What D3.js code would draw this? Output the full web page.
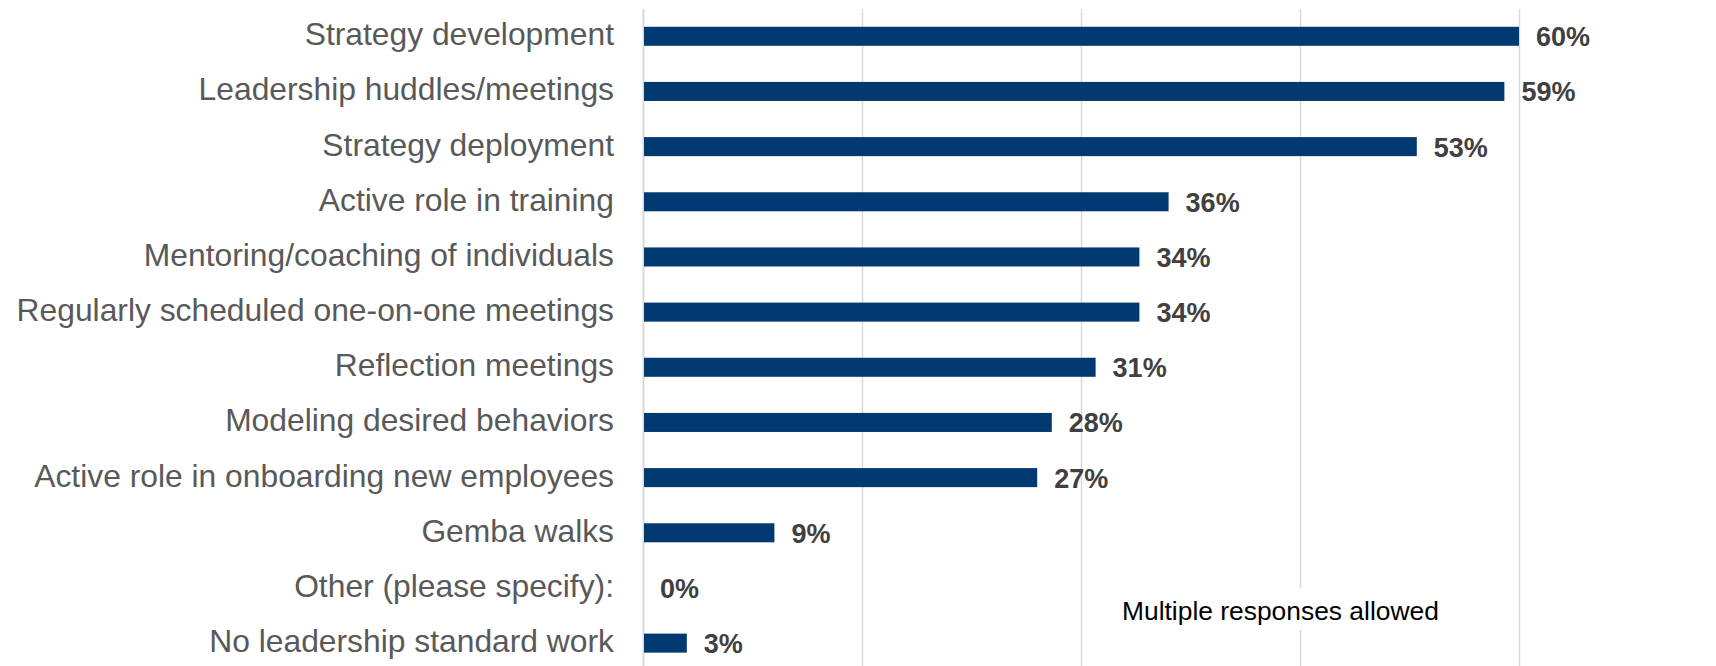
<!DOCTYPE html>
<html>
<head>
<meta charset="utf-8">
<script src="https://cdn.jsdelivr.net/npm/d3@7"></script>
<style>
  html, body { margin: 0; padding: 0; background: #fff; }
  svg { display: block; font-family: Arial, "Liberation Sans", sans-serif; }
</style>
</head>
<body>
<svg id="chart" width="1716" height="666"></svg>
<script>
// Leadership standard work activities (share of respondents, %)
const categories = [
  "Strategy development",
  "Leadership huddles/meetings",
  "Strategy deployment",
  "Active role in training",
  "Mentoring/coaching of individuals",
  "Regularly scheduled one-on-one meetings",
  "Reflection meetings",
  "Modeling desired behaviors",
  "Active role in onboarding new employees",
  "Gemba walks",
  "Other (please specify):",
  "No leadership standard work"
];
const values = [60, 59, 53, 36, 34, 34, 31, 28, 27, 9, 0, 3];
const gridTicks = [0, 15, 30, 45, 60];
const note = "Multiple responses allowed";

const svg = d3.select("#chart");

const x = d3.scaleLinear().domain([0, 60]).range([643, 1519]);
const y = d3.scaleBand().domain(categories).range([8.7, 670.7]).padding(0);
const barH = y.bandwidth() * 0.345;

// vertical gridlines
svg.append("g")
  .selectAll("line")
  .data(gridTicks)
  .join("line")
  .attr("x1", d => Math.round(x(d)) + 0.5)
  .attr("x2", d => Math.round(x(d)) + 0.5)
  .attr("y1", 9)
  .attr("y2", 666)
  .attr("stroke", "#d9d9d9")
  .attr("stroke-width", d => d === 0 ? 2 : 1.5);

// bars
svg.append("g")
  .selectAll("rect")
  .data(values)
  .join("rect")
  .attr("x", x(0) + 1)
  .attr("y", (d, i) => y(categories[i]) + (y.bandwidth() - barH) / 2)
  .attr("width", d => Math.max(0, x(d) - x(0) - 1))
  .attr("height", barH)
  .attr("fill", "#003A70");

// category labels
svg.append("g")
  .selectAll("text")
  .data(categories)
  .join("text")
  .attr("x", x(0) - 29)
  .attr("y", d => y(d) + y.bandwidth() / 2 + 9)
  .attr("text-anchor", "end")
  .attr("font-size", 31.8)
  .attr("fill", "#595959")
  .text(d => d);

// value labels
svg.append("g")
  .selectAll("text")
  .data(values)
  .join("text")
  .attr("x", d => x(d) + 17)
  .attr("y", (d, i) => y(categories[i]) + y.bandwidth() / 2 + 10)
  .attr("font-size", 27)
  .attr("font-weight", "bold")
  .attr("fill", "#404040")
  .text(d => d + "%");

// note box
const noteG = svg.append("g");
noteG.append("rect")
  .attr("x", 1110)
  .attr("y", 588)
  .attr("width", 345)
  .attr("height", 42)
  .attr("fill", "#fff");
noteG.append("text")
  .attr("x", 1122)
  .attr("y", 620)
  .attr("font-size", 26.4)
  .attr("fill", "#000")
  .text(note);
</script>
</body>
</html>
